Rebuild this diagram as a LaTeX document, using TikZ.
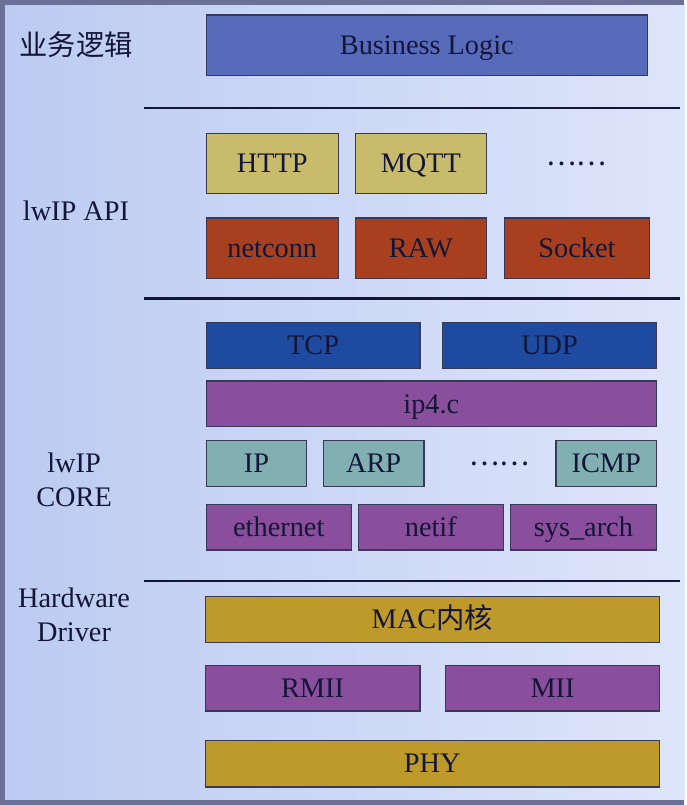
\documentclass[tikz,border=0pt]{standalone}
\usepackage{fontspec}
\setmainfont{Liberation Serif}
\newfontfamily\cjk{Noto Sans CJK SC}
\usepackage{tikz}
\definecolor{bgL}{HTML}{BCCBF2}
\definecolor{bgR}{HTML}{DDE5FA}
\definecolor{Frame}{HTML}{6B7196}
\definecolor{Ink}{HTML}{141638}
\definecolor{Biz}{HTML}{586BBA}
\definecolor{App}{HTML}{C8BB6C}
\definecolor{Api}{HTML}{A8401F}
\definecolor{Tport}{HTML}{1E4AA0}
\definecolor{Purp}{HTML}{8A4F9C}
\definecolor{Proto}{HTML}{82B0B2}
\definecolor{Hw}{HTML}{BE9A2A}
\tikzset{
  box/.style={shape=rectangle, draw=Ink!85, line width=1.3pt, inner sep=0pt,
    text=Ink, minimum height=46pt, text height=22pt, text depth=3.5pt},
  tall/.style={minimum height=61pt},
  sepline/.style={draw=Ink, line width=2.6pt},
  side/.style={text=Ink, align=center}
}

\begin{document}
\begin{tikzpicture}[x=1pt, y=-1pt, font=\fontsize{28.5}{34}\selectfont]
    % background of the slide
    \fill[left color=bgL, right color=bgR] (0,0) rectangle (686,805);
    \draw[Frame, line width=5pt] (686,0) -- (0,0) -- (0,805) -- (686,805);
    \useasboundingbox (0,0) rectangle (686,805);

    % left column
    \node at (74, 43) (tBiz) [side] {\cjk 业务逻辑};
    \node at (74, 210) (tApi) [side] {lwIP API};
    \node at (72, 480) (tCore) [side] {lwIP\\CORE};
    \node at (72, 616) (tHw) [side] {Hardware\\Driver};

    % layer separators
    \foreach \y in {106, 298, 582}
      \draw[sepline] (142,\y) -- (682,\y);

    % business logic
    \node at (427, 43) (biz) [box, tall, fill=Biz, minimum width=444pt] {Business Logic};

    % lwIP API
    \node at (271.5, 162) (http) [box, tall, fill=App, minimum width=133pt] {HTTP};
    \node at (421, 162) (mqtt) [box, tall, fill=App, minimum width=132pt] {MQTT};
    \node at (578, 162) (moreApp) [text=Ink] {\cjk ……};
    \node at (271.5, 247.5) (netconn) [box, tall, fill=Api, minimum width=133pt] {netconn};
    \node at (421, 247.5) (raw) [box, tall, fill=Api, minimum width=132pt] {RAW};
    \node at (578, 247.5) (socket) [box, tall, fill=Api, minimum width=146pt] {Socket};

    % lwIP core
    \node at (312.5, 345) (tcp) [box, fill=Tport, minimum width=215pt] {TCP};
    \node at (550.5, 345) (udp) [box, fill=Tport, minimum width=215pt] {UDP};
    \node at (431.5, 404) (ipfour) [box, fill=Purp, minimum width=453pt] {ip4.c};
    \node at (255.5, 464) (ip) [box, fill=Proto, minimum width=101pt] {IP};
    \node at (373.5, 464) (arp) [box, fill=Proto, minimum width=101pt] {ARP};
    \node at (500, 464) (moreProto) [text=Ink] {\cjk ……};
    \node at (607.5, 464) (icmp) [box, fill=Proto, minimum width=101pt] {ICMP};
    \node at (278, 528) (ethernet) [box, fill=Purp, minimum width=146pt] {ethernet};
    \node at (431, 528) (netif) [box, fill=Purp, minimum width=146pt] {netif};
    \node at (584.5, 528) (sysarch) [box, fill=Purp, minimum width=147pt] {sys\_arch};

    % hardware driver
    \node at (432.5, 621) (mac) [box, fill=Hw, minimum width=457pt] {MAC{\cjk 内核}};
    \node at (312, 690) (rmii) [box, fill=Purp, minimum width=216pt] {RMII};
    \node at (553.5, 690) (mii) [box, fill=Purp, minimum width=215pt] {MII};
    \node at (432.5, 766) (phy) [box, fill=Hw, minimum width=457pt, minimum height=47pt] {PHY};
\end{tikzpicture}
\end{document}
